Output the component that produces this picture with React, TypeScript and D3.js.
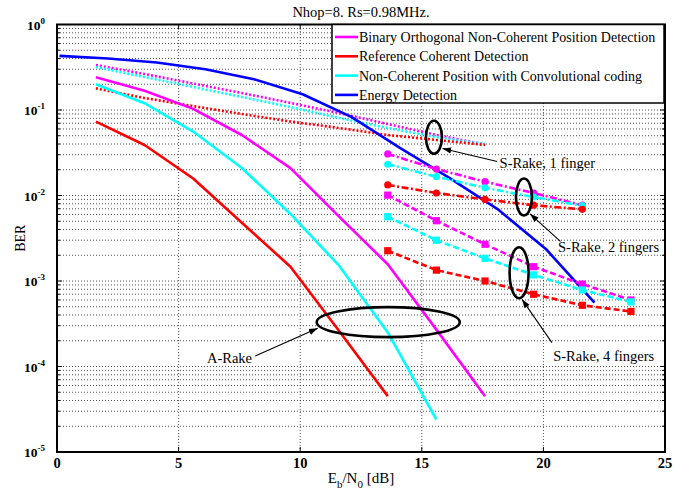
import React from 'react';
import * as d3 from 'd3';

// Eb/N0 values (dB) for each group of curves
const ebnoARake = [1.6, 3.6, 5.6, 7.6, 9.6, 11.6, 13.6, 15.6, 17.6];
const ebnoEnergy = [0.1, 2.1, 4.1, 6.1, 8.1, 10.1, 12.1, 14.1, 16.1, 18.1, 20.1, 22.1];
const ebnoSRake = [13.6, 15.6, 17.6, 19.6, 21.6, 23.6];

// A-Rake (solid)
const aRakeBinary = [0.241, 0.168, 0.103, 0.051, 0.0209, 0.00565, 0.00157, 0.00027, 0.000045];
const aRakeRef = [0.073, 0.039, 0.0158, 0.0048, 0.00147, 0.00026, 0.000045];
const aRakeConv = [0.2, 0.12, 0.056, 0.021, 0.00608, 0.00151, 0.00025, 0.000024];

// Energy detection (solid blue)
const energy = [0.43, 0.4, 0.36, 0.3, 0.229, 0.153, 0.083, 0.036, 0.0163, 0.00699, 0.00237, 0.00056];

// S-Rake, 1 finger (dotted)
const sRake1Binary = [0.336, 0.264, 0.204, 0.158, 0.121, 0.092, 0.0686, 0.051, 0.0395];
const sRake1Conv = [0.318, 0.243, 0.186, 0.142, 0.108, 0.0806, 0.0616, 0.0483, 0.04];
const sRake1Ref = [0.179, 0.138, 0.111, 0.0898, 0.0733, 0.0616, 0.051, 0.0446, 0.039];

// S-Rake, 2 fingers (dash-dot, circles)
const sRake2Binary = [0.0306, 0.0204, 0.0145, 0.0107, 0.0077];
const sRake2Conv = [0.0232, 0.0166, 0.0123, 0.0096, 0.0076];
const sRake2Ref = [0.0133, 0.0107, 0.009, 0.0077, 0.0069];

// S-Rake, 4 fingers (dashed, squares)
const sRake4Binary = [0.0101, 0.00507, 0.00269, 0.00147, 0.00092, 0.0006];
const sRake4Conv = [0.00565, 0.003, 0.00184, 0.00118, 0.000785, 0.00057];
const sRake4Ref = [0.00226, 0.00134, 0.001, 0.0007, 0.00052, 0.00044];

const xTicks = [0, 5, 10, 15, 20, 25];
const yDecades = [0, -1, -2, -3, -4, -5];

const legendNames = [
  'Binary Orthogonal Non-Coherent Position Detection',
  'Reference Coherent Detection',
  'Non-Coherent Position with Convolutional coding',
  'Energy Detection',
];

const MAGENTA = '#ff00ff';
const RED = '#ff0000';
const CYAN = '#00ffff';
const BLUE = '#0000ff';
const legendColors = [MAGENTA, RED, CYAN, BLUE];

const W = 694;
const H = 493;
const margin = { top: 24.5, right: 29, bottom: 41, left: 57 };
const FONT = '"Liberation Serif", "Times New Roman", serif';

type Series = { xs: number[]; ys: number[]; color: string; dash?: string; marker?: 'circle' | 'square' };

const series: Series[] = [
  { xs: ebnoARake, ys: sRake1Binary, color: MAGENTA, dash: '2,2' },
  { xs: ebnoARake, ys: sRake1Conv, color: CYAN, dash: '2,2' },
  { xs: ebnoARake, ys: sRake1Ref, color: RED, dash: '2,2' },
  { xs: ebnoARake, ys: aRakeBinary, color: MAGENTA },
  { xs: ebnoARake, ys: aRakeRef, color: RED },
  { xs: ebnoARake, ys: aRakeConv, color: CYAN },
  { xs: ebnoEnergy, ys: energy, color: BLUE },
  { xs: ebnoSRake, ys: sRake2Binary, color: MAGENTA, dash: '7,2.5,2,2.5', marker: 'circle' },
  { xs: ebnoSRake, ys: sRake2Conv, color: CYAN, dash: '7,2.5,2,2.5', marker: 'circle' },
  { xs: ebnoSRake, ys: sRake2Ref, color: RED, dash: '7,2.5,2,2.5', marker: 'circle' },
  { xs: ebnoSRake, ys: sRake4Binary, color: MAGENTA, dash: '6,3', marker: 'square' },
  { xs: ebnoSRake, ys: sRake4Conv, color: CYAN, dash: '6,3', marker: 'square' },
  { xs: ebnoSRake, ys: sRake4Ref, color: RED, dash: '6,3', marker: 'square' },
];

export default function App() {
  const x = d3.scaleLinear().domain([0, 25]).range([margin.left, W - margin.right]);
  const y = d3.scaleLog().domain([1e-5, 1]).range([H - margin.bottom, margin.top]);
  const x0 = x(0), x1 = x(25), y0 = y(1e-5), y1 = y(1);

  const line = d3.line<[number, number]>().x(d => x(d[0])).y(d => y(d[1]));

  const minorY: number[] = [];
  yDecades.slice(1).forEach(k => {
    for (let m = 2; m <= 9; m++) minorY.push(m * Math.pow(10, k));
  });
  const majorY = yDecades.map(k => Math.pow(10, k));

  // annotations, placed in data units
  const ellipses = [
    { cx: 15.5, cy: 0.048, rx: 8, ry: 16.5 },
    { cx: 19.2, cy: 0.0096, rx: 8, ry: 18.5 },
    { cx: 19.0, cy: 0.00125, rx: 9.5, ry: 25.5 },
    { cx: 13.62, cy: 0.00033, rx: 71.5, ry: 15 },
  ];
  const arrows = [
    { from: [18.1, 0.025], to: [15.85, 0.0355] },
    { from: [20.7, 0.0029], to: [19.45, 0.0061] },
    { from: [20.35, 0.00019], to: [19.12, 0.00061] },
    { from: [8.15, 0.000133], to: [10.72, 0.00028] },
  ];
  const labels = [
    { x: 18.2, y: 0.0243, text: 'S-Rake, 1 finger', anchor: 'start' },
    { x: 20.6, y: 0.00248, text: 'S-Rake, 2 fingers', anchor: 'start' },
    { x: 20.4, y: 0.000133, text: 'S-Rake, 4 fingers', anchor: 'start' },
    { x: 8.02, y: 0.000127, text: 'A-Rake', anchor: 'end' },
  ];

  const legX = 332, legY = y1, legW = 332, legH = 78.5;

  return (
    <svg width={W} height={H} style={{ position: 'absolute', left: 0, top: 0, background: '#fff' }} fontFamily={FONT}>
      <defs>
        <marker id="arrowhead" viewBox="0 0 10 10" refX="10" refY="5" markerWidth="8" markerHeight="8" orient="auto">
          <path d="M0,1.5 L10,5 L0,8.5 z" fill="#000" />
        </marker>
        <clipPath id="plotClip">
          <rect x={x0} y={y1} width={x1 - x0} height={y0 - y1} />
        </clipPath>
      </defs>
      <rect x={0} y={0} width={W} height={H} fill="#fff" />

      {/* grid */}
      <g stroke="#222" strokeWidth={0.8} strokeDasharray="1,2">
        {xTicks.slice(1, -1).map(t => (
          <line key={'gx' + t} x1={x(t)} x2={x(t)} y1={y0} y2={y1} />
        ))}
        {[...majorY.slice(1, -1), ...minorY].map(v => (
          <line key={'gy' + v} x1={x0} x2={x1} y1={y(v)} y2={y(v)} />
        ))}
      </g>

      {/* ticks */}
      <g stroke="#000" strokeWidth={1}>
        {xTicks.map(t => (
          <g key={'tx' + t}>
            <line x1={x(t)} x2={x(t)} y1={y0} y2={y0 - 5} />
            <line x1={x(t)} x2={x(t)} y1={y1} y2={y1 + 5} />
          </g>
        ))}
        {majorY.map(v => (
          <g key={'ty' + v}>
            <line x1={x0} x2={x0 + 5} y1={y(v)} y2={y(v)} />
            <line x1={x1} x2={x1 - 5} y1={y(v)} y2={y(v)} />
          </g>
        ))}
        {minorY.map(v => (
          <g key={'tm' + v}>
            <line x1={x0} x2={x0 + 3} y1={y(v)} y2={y(v)} />
            <line x1={x1} x2={x1 - 3} y1={y(v)} y2={y(v)} />
          </g>
        ))}
      </g>

      {/* curves */}
      <g clipPath="url(#plotClip)">
        {series.map((s, i) => {
          const pts = s.xs.slice(0, s.ys.length).map((xv, j) => [xv, s.ys[j]] as [number, number]);
          return (
            <g key={'s' + i}>
              <path d={line(pts) || ''} fill="none" stroke={s.color} strokeWidth={2.6}
                strokeDasharray={s.dash} strokeLinejoin="round" />
              {s.marker === 'circle' && pts.map((p, j) => (
                <circle key={j} cx={x(p[0])} cy={y(p[1])} r={3.6} fill={s.color} />
              ))}
              {s.marker === 'square' && pts.map((p, j) => (
                <rect key={j} x={x(p[0]) - 3.6} y={y(p[1]) - 3.6} width={7.2} height={7.2} fill={s.color} />
              ))}
            </g>
          );
        })}
      </g>

      {/* annotations */}
      <g fill="none" stroke="#000">
        {ellipses.map((e, i) => (
          <ellipse key={'e' + i} cx={x(e.cx)} cy={y(e.cy)} rx={e.rx} ry={e.ry} strokeWidth={2.6} />
        ))}
        {arrows.map((a, i) => (
          <line key={'a' + i} x1={x(a.from[0])} y1={y(a.from[1])} x2={x(a.to[0])} y2={y(a.to[1])}
            strokeWidth={1.1} markerEnd="url(#arrowhead)" />
        ))}
      </g>
      {labels.map((l, i) => (
        <text key={'l' + i} x={x(l.x)} y={y(l.y)} dy="0.35em" textAnchor={l.anchor as any} fontSize={14.5}>
          {l.text}
        </text>
      ))}

      {/* axes box */}
      <rect x={x0} y={y1} width={x1 - x0} height={y0 - y1} fill="none" stroke="#000" strokeWidth={2} />

      {/* tick labels */}
      {xTicks.map(t => (
        <text key={'xl' + t} x={x(t)} y={y0 + 16} textAnchor="middle" fontSize={14.5} fontWeight="bold">{t}</text>
      ))}
      {yDecades.map(k => (
        <text key={'yl' + k} x={x0 - 12} y={y(Math.pow(10, k)) + 5} textAnchor="end" fontSize={13.5} fontWeight="bold">
          10
          <tspan dy={-6} fontSize={9}>{k}</tspan>
        </text>
      ))}

      {/* axis titles */}
      <text x={x(12.5)} y={H - 10} textAnchor="middle" fontSize={15}>
        E<tspan dy={5} fontSize={11}>b</tspan><tspan dy={-5}>/N</tspan><tspan dy={5} fontSize={11}>0</tspan><tspan dy={-5}> [dB]</tspan>
      </text>
      <text transform={`translate(25,${(y0 + y1) / 2 + 0}) rotate(-90)`} textAnchor="middle" fontSize={14}>BER</text>
      <text x={(x0 + x1) / 2} y={16.5} textAnchor="middle" fontSize={14.5}>Nhop=8. Rs=0.98MHz.</text>

      {/* legend */}
      <g>
        <rect x={legX} y={legY} width={legW} height={legH} fill="#fff" stroke="#000" strokeWidth={1.5} />
        {legendNames.map((n, i) => (
          <g key={'lg' + i}>
            <line x1={legX + 3} x2={legX + 26} y1={legY + 12.5 + i * 19.3} y2={legY + 12.5 + i * 19.3}
              stroke={legendColors[i]} strokeWidth={2.6} />
            <text x={legX + 27} y={legY + 12.5 + i * 19.3} dy="0.35em" fontSize={14}>{n}</text>
          </g>
        ))}
      </g>
    </svg>
  );
}
